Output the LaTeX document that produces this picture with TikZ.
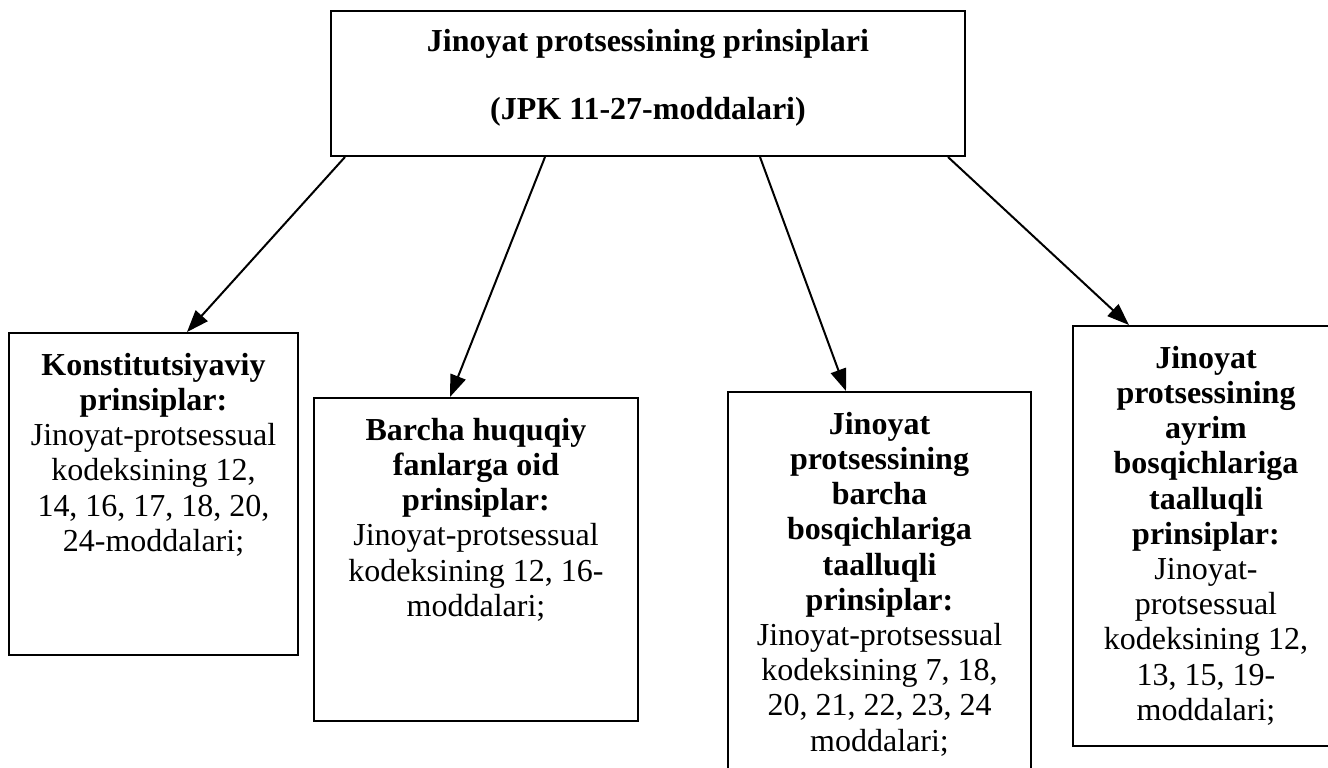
\documentclass[tikz,border=0pt]{standalone}
\usepackage{fontspec}
\setmainfont{Liberation Serif}
\usetikzlibrary{arrows.meta,calc}

% text block inside a principle box: width, height (in px), body
\newcommand{\boxtext}[3]{\parbox[c][\dimexpr #2pt/2\relax][t]{\dimexpr #1pt/2\relax}{\centering\vspace*{10pt}#3}}

\begin{document}
\begin{tikzpicture}[
    x=0.5pt, y=-0.5pt,
    prinbox/.style={draw, line width=1pt, inner sep=0pt, anchor=north west,
        font=\fontsize{16}{17.6}\selectfont},
    link/.style={-{Triangle[length=11pt,width=8pt]}, line width=1pt},
]
    \useasboundingbox (0,0) rectangle (1328,767);
    \clip (0,0) rectangle (1328,767);

    \node[prinbox] (top) at (330,10) {\boxtext{634}{145}{\vspace*{-1pt}%
        \textbf{Jinoyat protsessining prinsiplari}\\[16.4pt]
        \textbf{(JPK 11-27-moddalari)}}};

    \node[prinbox] (kons) at (8,332) {\boxtext{289}{322}{%
        \textbf{Konstitutsiyaviy\\ prinsiplar:}\\
        Jinoyat-protsessual\\ kodeksining 12,\\ 14, 16, 17, 18, 20,\\ 24-moddalari;}};
    \node[prinbox] (barcha) at (313,397) {\boxtext{324}{323}{%
        \textbf{Barcha huquqiy\\ fanlarga oid\\ prinsiplar:}\\
        Jinoyat-protsessual\\ kodeksining 12, 16-\\ moddalari;}};
    \node[prinbox] (bosq) at (727,391) {\boxtext{303}{420}{%
        \textbf{Jinoyat\\ protsessining\\ barcha\\ bosqichlariga\\ taalluqli\\ prinsiplar:}\\
        Jinoyat-protsessual\\ kodeksining 7, 18,\\ 20, 21, 22, 23, 24\\ moddalari;}};
    \node[prinbox] (ayrim) at (1072,325) {\boxtext{266}{420}{%
        \textbf{Jinoyat\\ protsessining\\ ayrim\\ bosqichlariga\\ taalluqli\\ prinsiplar:}\\
        Jinoyat-\\ protsessual\\ kodeksining 12,\\ 13, 15, 19-\\ moddalari;}};

    % arrows from the heading box
    \draw[link] ($(top.south west)+(15,0)$)  -- ($(kons.north west)+(179,0)$);
    \draw[link] ($(top.south west)+(215,0)$) -- ($(barcha.north west)+(137,0)$);
    \draw[link] ($(top.south west)+(430,0)$) -- ($(bosq.north west)+(119,0)$);
    \draw[link] ($(top.south west)+(618,0)$) -- ($(ayrim.north west)+(57,0)$);
\end{tikzpicture}
\end{document}
